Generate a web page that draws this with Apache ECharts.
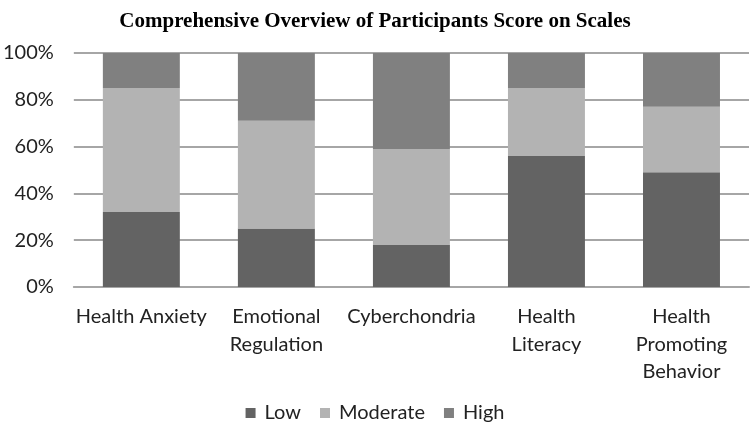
<!DOCTYPE html>
<html><head><meta charset="utf-8">
<script src="https://cdn.jsdelivr.net/npm/echarts@6/dist/echarts.min.js"></script>
<style>html,body{margin:0;padding:0;background:#fff}#c{width:750px;height:432px}</style>
</head><body><div id="c"></div>
<script>
const categories = ["Health Anxiety", "Emotional\nRegulation", "Cyberchondria", "Health\nLiteracy", "Health\nPromoting\nBehavior"];
const lowValues = [32, 25, 18, 56, 49];
const moderateValues = [53, 46, 41, 29, 28];
const highValues = [15, 29, 41, 15, 23];
const yTicks = [0, 20, 40, 60, 80, 100];
const seriesNames = ["Low", "Moderate", "High"];
const colors = ["#636363", "#b3b3b3", "#808080"];
const font = "Lato, 'Open Sans', sans-serif";

const chart = echarts.init(document.getElementById('c'), null, {renderer: 'canvas'});
const vals = [lowValues, moderateValues, highValues];
chart.setOption({
  animation: false,
  title: {
    text: "Comprehensive Overview of Participants Score on Scales",
    left: 'center', top: 6,
    textStyle: {fontFamily: "'Liberation Serif', 'Times New Roman', serif", fontWeight: 'bold', fontSize: 21, color: '#000'}
  },
  legend: {
    data: seriesNames, bottom: 4, left: 'center',
    itemWidth: 10, itemHeight: 10, itemGap: 19, icon: 'rect',
    textStyle: {fontFamily: font, fontSize: 20, color: '#222', padding: [0, 0, 0, 4]}
  },
  grid: {left: 71, right: 1, top: 53, bottom: 145, containLabel: false},
  xAxis: {
    type: 'category', data: categories,
    axisTick: {show: false},
    axisLine: {lineStyle: {color: '#a6a6a6', width: 2}},
    axisLabel: {fontFamily: font, fontSize: 20, color: '#222', lineHeight: 27.5, margin: 16, interval: 0}
  },
  yAxis: {
    type: 'value', min: 0, max: 100, interval: 20,
    axisLabel: {formatter: v => yTicks.includes(v) ? v + '%' : '', fontFamily: font, fontSize: 20, color: '#222', margin: 20},
    splitLine: {lineStyle: {color: '#a6a6a6', width: 2}},
    axisLine: {show: false}, axisTick: {show: false}
  },
  series: seriesNames.map((n, i) => ({
    name: n, type: 'bar', stack: 'total', data: vals[i],
    barWidth: '57%',
    itemStyle: {color: colors[i]}
  }))
});
</script></body></html>
